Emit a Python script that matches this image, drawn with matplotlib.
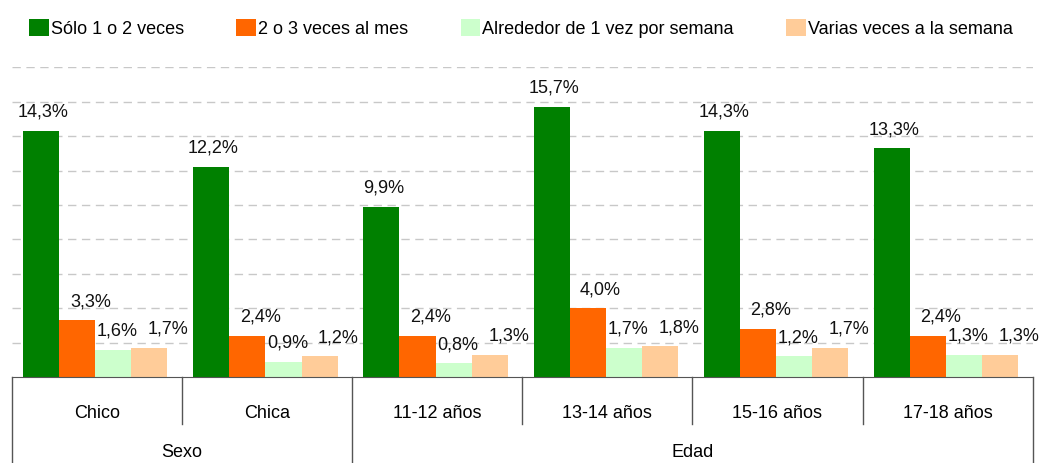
import numpy as np
import matplotlib.pyplot as plt
from matplotlib.patches import Patch

categories = ['Chico', 'Chica', '11-12 años', '13-14 años', '15-16 años', '17-18 años']
groups = ['Sexo', 'Edad']
group_sizes = [2, 4]
series = ['Sólo 1 o 2 veces', '2 o 3 veces al mes',
          'Alrededor de 1 vez por semana', 'Varias veces a la semana']
solo = [14.3, 12.2, 9.9, 15.7, 14.3, 13.3]
mes = [3.3, 2.4, 2.4, 4.0, 2.8, 2.4]
alrededor = [1.6, 0.9, 0.8, 1.7, 1.2, 1.3]
varias = [1.7, 1.2, 1.3, 1.8, 1.7, 1.3]

colors = ['#008000', '#FF6600', '#CCFFCC', '#FFCC99']
label_dx = [2, 13, 4, 19]  # pixel nudges of the value labels

plt.rcParams['font.family'] = ['Liberation Sans', 'DejaVu Sans']
FS = 13

fig = plt.figure(figsize=(10.42, 4.64), dpi=100)
ax = fig.add_axes([0.0115, 0.185, 0.9795, 0.668])

x = np.arange(len(categories))
w = 0.212
values = [solo, mes, alrededor, varias]
for i, (vals, c) in enumerate(zip(values, colors)):
    pos = x + (i - 1.5) * w - 0.01
    ax.bar(pos, vals, width=w, color=c, zorder=3)
    for xp, v in zip(pos, vals):
        ax.annotate(f'{v:.1f}%'.replace('.', ','), (xp, v),
                    xytext=(label_dx[i] * 0.72, 8), textcoords='offset points',
                    ha='center', va='bottom', fontsize=FS, color='#111111', zorder=4)

ax.set_xlim(-0.5, len(categories) - 0.5)
ax.set_ylim(0, 18)
ax.set_yticks(np.arange(2, 19, 2))
ax.yaxis.grid(True, color='#c8c8c8', linestyle=(0, (6, 4)), linewidth=1, zorder=0)
ax.tick_params(left=False, labelleft=False, bottom=False, labelbottom=False)
for s in ['left', 'right', 'top']:
    ax.spines[s].set_visible(False)
ax.spines['bottom'].set_color('#555555')
ax.spines['bottom'].set_zorder(5)

# category axis with two levels
trans = ax.get_xaxis_transform()
for xi, name in zip(x, categories):
    ax.text(xi, -0.113, name, transform=trans, ha='center', va='center', fontsize=FS)

start = 0
bounds = [-0.5]
for g, n in zip(groups, group_sizes):
    ax.text(start + (n - 1) / 2, -0.24, g, transform=trans, ha='center', va='center', fontsize=FS)
    start += n
    bounds.append(start - 0.5)
for b in np.arange(-0.5, len(categories), 1.0):
    bottom = -0.277 if b in bounds else -0.152
    ax.plot([b, b], [0, bottom], transform=trans, color='#555555', lw=1, clip_on=False)

handles = [Patch(facecolor=c, edgecolor='none') for c in colors]
fig.legend(handles, series, loc='upper left', bbox_to_anchor=(0.016, 0.985), ncol=4,
           frameon=False, fontsize=FS, handlelength=1.1, handleheight=1.1,
           handletextpad=0.1, columnspacing=2.9, borderaxespad=0.3)

fig.savefig('out.png', dpi=100)
